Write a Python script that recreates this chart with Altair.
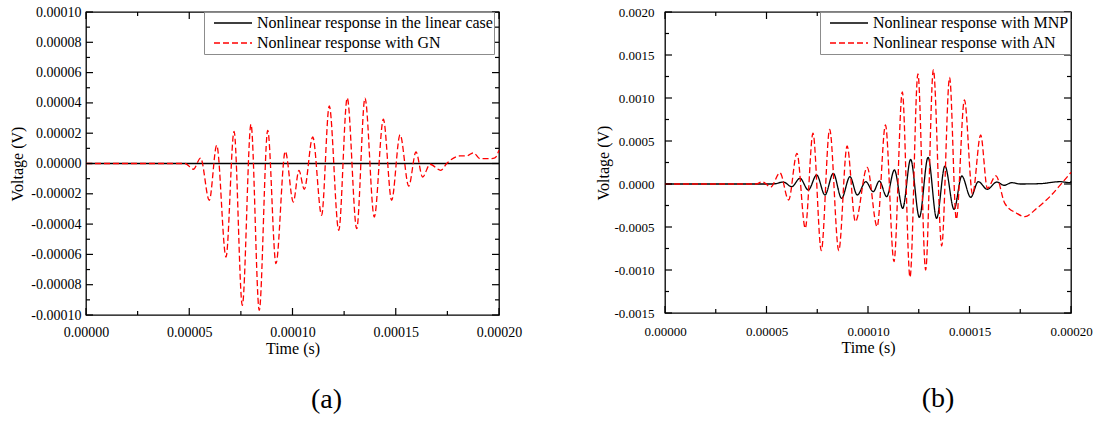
import altair as alt
import pandas as pd

FONT = "Liberation Serif"
RED = "#ff0000"

# ---------------- panel (a) ----------------
name_lin = "Nonlinear response in the linear case"
name_gn = "Nonlinear response with GN"

t_lin = [0.0, 0.0002]
v_lin = [0.0, 0.0]

# turning points of the GN response: time (s), voltage (V)
t_gn = [0.0, 48.0e-6, 52.0e-6, 55.5e-6, 59.7e-6, 63.3e-6, 67.8e-6, 71.7e-6, 75.7e-6,
        79.9e-6, 83.9e-6, 88.0e-6, 92.0e-6, 96.5e-6, 100.4e-6, 103.1e-6, 105.7e-6,
        109.8e-6, 114.1e-6, 117.8e-6, 122.4e-6, 126.5e-6, 131.1e-6, 135.1e-6,
        139.6e-6, 144.0e-6, 148.0e-6, 152.1e-6, 156.3e-6, 159.8e-6, 163.0e-6,
        166.6e-6, 171.8e-6, 174.7e-6, 181.1e-6, 184.4e-6, 187.6e-6, 190.8e-6,
        195.6e-6, 198.0e-6, 200.0e-6]
v_gn = [0.0, 0.0, -0.38e-5, 0.36e-5, -2.43e-5, 1.2e-5, -6.17e-5, 2.12e-5, -9.36e-5,
        2.59e-5, -9.69e-5, 2.19e-5, -6.61e-5, 0.8e-5, -2.54e-5, -0.45e-5, -1.7e-5,
        1.75e-5, -3.42e-5, 3.8e-5, -4.41e-5, 4.32e-5, -4.3e-5, 4.32e-5,
        -3.53e-5, 2.92e-5, -2.43e-5, 1.9e-5, -1.49e-5, 0.76e-5, -0.89e-5,
        -0.05e-5, -0.45e-5, 0.0, 0.5e-5, 0.5e-5, 0.71e-5, 0.32e-5,
        0.32e-5, 0.37e-5, 0.87e-5]

a_y_major = [-0.0001, -0.00008, -0.00006, -0.00004, -0.00002, 0.0,
             0.00002, 0.00004, 0.00006, 0.00008, 0.0001]
a_y_minor = [-0.00009, -0.00007, -0.00005, -0.00003, -0.00001,
             0.00001, 0.00003, 0.00005, 0.00007, 0.00009]

# ---------------- panel (b) ----------------
name_mnp = "Nonlinear response with MNP"
name_an = "Nonlinear response with AN"

t_mnp = [0.0, 53.0e-6, 58.3e-6, 62.4e-6, 66.5e-6, 70.6e-6, 74.7e-6, 78.8e-6, 82.9e-6,
         87.0e-6, 91.1e-6, 94.7e-6, 98.9e-6, 102.6e-6, 105.6e-6, 109.2e-6, 113.0e-6,
         117.1e-6, 121.0e-6, 125.3e-6, 129.6e-6, 133.8e-6, 137.9e-6, 142.4e-6,
         146.2e-6, 150.6e-6, 154.3e-6, 158.8e-6, 163.4e-6, 167.0e-6, 170.8e-6,
         174.9e-6, 184.7e-6, 194.6e-6, 199.5e-6, 200.0e-6]
v_mnp = [0.0, 0.0, 0.23e-4, -0.31e-4, 0.66e-4, -0.7e-4, 1.05e-4, -1.28e-4, 1.24e-4,
         -1.67e-4, 0.85e-4, -1.28e-4, 0.27e-4, -0.89e-4, 0.35e-4, -1.47e-4, 1.63e-4,
         -2.83e-4, 2.87e-4, -3.88e-4, 3.1e-4, -3.99e-4, 2.09e-4, -2.95e-4,
         0.93e-4, -1.55e-4, 0.27e-4, -0.62e-4, 0.23e-4, -0.15e-4, 0.15e-4,
         0.0, 0.04e-4, 0.27e-4, 0.15e-4, 0.3e-4]

t_an = [0.0, 45.0e-6, 47.8e-6, 52.1e-6, 56.6e-6, 60.9e-6, 65.0e-6, 69.1e-6, 72.9e-6,
        77.0e-6, 81.1e-6, 85.6e-6, 89.7e-6, 93.8e-6, 99.6e-6, 104.5e-6, 108.6e-6,
        112.8e-6, 116.9e-6, 120.7e-6, 124.6e-6, 128.4e-6, 132.2e-6, 136.3e-6,
        140.2e-6, 143.5e-6, 147.5e-6, 151.5e-6, 155.5e-6, 158.8e-6, 163.0e-6,
        167.4e-6, 173.2e-6, 177.3e-6, 183.1e-6, 189.6e-6, 195.4e-6, 200.0e-6]
v_an = [0.0, 0.0, 0.27e-4, -0.35e-4, 1.31e-4, -1.86e-4, 3.57e-4, -5.15e-4, 5.9e-4,
        -7.75e-4, 6.36e-4, -7.75e-4, 4.42e-4, -4.38e-4, 1.94e-4, -4.96e-4, 6.86e-4,
        -9.03e-4, 10.7e-4, -10.85e-4, 12.8e-4, -10.0e-4, 13.3e-4, -7.21e-4,
        12.4e-4, -4.1e-4, 9.77e-4, -1.2e-4, 5.7e-4, -0.5e-4, 0.95e-4,
        -2.25e-4, -3.4e-4, -3.8e-4, -2.83e-4, -1.47e-4, 0.08e-4, 1.35e-4]

b_y_major = [-0.0015, -0.001, -0.0005, 0.0, 0.0005, 0.001, 0.0015, 0.002]
b_y_minor = [-0.00125, -0.00075, -0.00025, 0.00025, 0.00075, 0.00125, 0.00175]

# shared time axis
x_major = [0.0, 0.00005, 0.0001, 0.00015, 0.0002]
x_minor = [0.000025, 0.000075, 0.000125, 0.000175]
X_DOMAIN = [0.0, 0.0002]


def signed_fmt(spec):
    return (f"datum.value < 0 ? '-' + format(-datum.value, '{spec}') "
            f": format(datum.value, '{spec}')")


def panel(series, names, w, h, ydom, y_major, y_minor, yfmt,
          lab_size, ylab_pad, xlab_pad, ytitle_pad, xtitle_pad,
          legend_x, tag, tag_dx):
    rows = []
    for name, ts, vs in series:
        for t, v in zip(ts, vs):
            rows.append({"t": t, "v": v, "series": name})
    df = pd.DataFrame(rows)

    x_scale = alt.Scale(domain=X_DOMAIN, nice=False, zero=False)
    y_scale = alt.Scale(domain=ydom, nice=False, zero=False)
    common = dict(ticks=False, tickSize=0, domain=False, grid=False,
                  labelFlush=False, labelOverlap=False,
                  labelFont=FONT, labelFontSize=lab_size, labelColor="black",
                  titleFont=FONT, titleFontSize=16, titleFontWeight="normal",
                  titleColor="black")
    x_axis = alt.Axis(values=x_major, labelExpr=signed_fmt(".5f"),
                      labelPadding=xlab_pad, titlePadding=xtitle_pad, **common)
    y_axis = alt.Axis(values=y_major, labelExpr=signed_fmt(yfmt),
                      labelPadding=ylab_pad, titlePadding=ytitle_pad, **common)

    def xenc(field):
        return alt.X(f"{field}:Q", title="Time (s)", scale=x_scale, axis=x_axis)

    def yenc(field):
        return alt.Y(f"{field}:Q", title="Voltage (V)", scale=y_scale, axis=y_axis)

    legend = alt.Legend(
        orient="none", legendX=legend_x, legendY=0, title=None,
        direction="vertical", labelFont=FONT, labelFontSize=16,
        labelColor="black", labelLimit=0, symbolType="stroke",
        symbolSize=1444, symbolStrokeWidth=1.5, clipHeight=20,
        rowPadding=0, padding=1, symbolOffset=8, labelOffset=4,
        strokeColor="#8c8c8c", fillColor="white",
    )

    lines = alt.Chart(df).mark_line(interpolate="monotone", strokeWidth=1.3).encode(
        x=xenc("t"),
        y=yenc("v"),
        color=alt.Color("series:N", scale=alt.Scale(domain=names, range=["black", RED]),
                        legend=legend),
        strokeDash=alt.StrokeDash("series:N",
                                  scale=alt.Scale(domain=names, range=[[1, 0], [6, 3]]),
                                  legend=legend),
        order=alt.Order("t:Q"),
    )

    # inward tick marks on all four sides of the frame
    def tick_rules(values, side, length):
        base = alt.Chart(pd.DataFrame({"p": values})).mark_rule(
            color="black", strokeWidth=1.2)
        if side == "left":
            return base.encode(y=yenc("p"), x=alt.value(0), x2=alt.value(length))
        if side == "right":
            return base.encode(y=yenc("p"), x=alt.value(w), x2=alt.value(w - length))
        if side == "bottom":
            return base.encode(x=xenc("p"), y=alt.value(h), y2=alt.value(h - length))
        return base.encode(x=xenc("p"), y=alt.value(0), y2=alt.value(length))

    layers = [lines]
    for side in ("left", "right"):
        layers.append(tick_rules(y_major, side, 7))
        layers.append(tick_rules(y_minor, side, 4))
    for side in ("bottom", "top"):
        layers.append(tick_rules(x_major, side, 7))
        layers.append(tick_rules(x_minor, side, 4))

    return alt.layer(*layers).properties(
        width=w, height=h,
        title=alt.TitleParams(tag, orient="bottom", anchor="middle", font=FONT,
                              fontSize=28, fontWeight="normal", color="black",
                              offset=30, dx=tag_dx),
    )


panel_a = panel(
    [(name_lin, t_lin, v_lin), (name_gn, t_gn, v_gn)], [name_lin, name_gn],
    413, 303, [-0.0001, 0.0001], a_y_major, a_y_minor, ".5f",
    14, 5, 10, 5, 1, 118, "(a)", 34,
)
panel_b = panel(
    [(name_mnp, t_mnp, v_mnp), (name_an, t_an, v_an)], [name_mnp, name_an],
    406, 301, [-0.0015, 0.002], b_y_major, b_y_minor, ".4f",
    13, 11, 12, 2, 1, 155, "(b)", 70,
)

chart = alt.hconcat(panel_a, panel_b, spacing=166, bounds="flush").resolve_scale(
    color="independent", strokeDash="independent"
).properties(
    padding={"left": 9, "top": 4, "right": 0, "bottom": 0},
    background="white",
).configure_view(stroke="black", strokeWidth=1.3)

chart.save("out.html", embed_options={"renderer": "svg", "actions": False})
